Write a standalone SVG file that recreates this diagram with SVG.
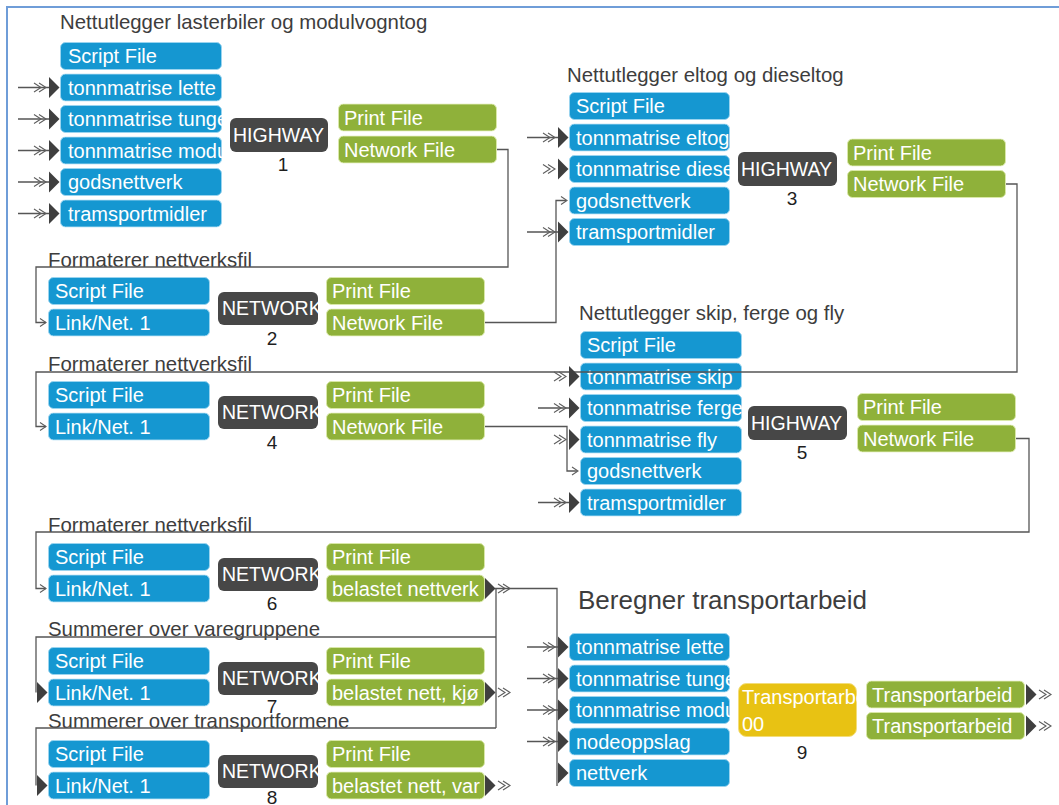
<svg xmlns="http://www.w3.org/2000/svg" width="1059" height="805" viewBox="0 0 1059 805">
  <style>
    text { font-family: "Liberation Sans", Arial, sans-serif; }
    .title { font-size: 20.4px; fill: #3d3d3d; }
    .big { font-size: 26px; fill: #3d3d3d; }
    .num { font-size: 19px; fill: #1e1e1e; text-anchor: middle; }
    .in rect { fill: #1597d1; stroke: #9ad4ef; stroke-width: 1; }
    .out rect { fill: #8fb13a; stroke: #d9e8a8; stroke-width: 1; }
    .in text, .out text, .proc text, .calc text { font-size: 20px; fill: #ffffff; }
    .proc rect { fill: #474747; }
    .proc text { font-size: 19.5px; }
    .calc rect { fill: #e8c213; stroke: #f3dd7a; stroke-width: 1; }
    .wire { fill: none; stroke: #565656; stroke-width: 1.3; }
    .chev { fill: none; stroke: #5e5e5e; stroke-width: 1.1; }
    .head { fill: #3f3f3f; }
  </style>
  <defs>
    <!-- input port: double chevron followed by a solid head, tip at origin -->
    <g id="ain">
      <path class="chev" d="M-25,-4.5 L-18,0 L-25,4.5 M-20,-4.5 L-13,0 L-20,4.5"/>
      <path class="head" d="M-10,-10.5 L0.5,0 L-10,10.5 Z"/>
    </g>
    <!-- output port: solid head then double chevron, base at origin -->
    <g id="aout">
      <path class="head" d="M0,-10.5 L10.5,0 L0,10.5 Z"/>
      <path class="chev" d="M13,-4.5 L20,0 L13,4.5 M18,-4.5 L25,0 L18,4.5"/>
    </g>
    <!-- thin open arrow for link inputs, tip at origin -->
    <path id="aopen" class="chev" d="M-7,-4 L-1,0 L-7,4"/>
    <!-- solid head only, tip at origin -->
    <path id="ahead" class="head" d="M-10,-10.5 L0.5,0 L-10,10.5 Z"/>
  </defs>

  <rect width="1059" height="805" fill="#ffffff"/>
  <path d="M7,805 V7 H1059" fill="none" stroke="#6f9dd8" stroke-width="2"/>

  <!-- 1: HIGHWAY, trucks -->
  <g id="n1">
    <text class="title" x="60" y="29">Nettutlegger lasterbiler og modulvogntog</text>
    <g class="in">
      <svg x="60" y="42" width="162" height="28"><rect x="0.5" y="0.5" width="161" height="27" rx="5"/><text x="8" y="21">Script File</text></svg>
      <svg x="60" y="73.5" width="162" height="28"><rect x="0.5" y="0.5" width="161" height="27" rx="5"/><text x="8" y="21">tonnmatrise lette</text></svg>
      <svg x="60" y="105" width="162" height="28"><rect x="0.5" y="0.5" width="161" height="27" rx="5"/><text x="8" y="21">tonnmatrise tunge</text></svg>
      <svg x="60" y="136.5" width="162" height="28"><rect x="0.5" y="0.5" width="161" height="27" rx="5"/><text x="8" y="21">tonnmatrise modul</text></svg>
      <svg x="60" y="168" width="162" height="28"><rect x="0.5" y="0.5" width="161" height="27" rx="5"/><text x="8" y="21">godsnettverk</text></svg>
      <svg x="60" y="199.5" width="162" height="28"><rect x="0.5" y="0.5" width="161" height="27" rx="5"/><text x="8" y="21">tramsportmidler</text></svg>
    </g>
    <g class="proc">
      <svg x="230" y="118" width="98" height="34"><rect width="98" height="34" rx="6"/><text x="3" y="24">HIGHWAY</text></svg>
    </g>
    <text class="num" x="283" y="171">1</text>
    <g class="out">
      <svg x="338" y="103.5" width="159" height="28"><rect x="0.5" y="0.5" width="158" height="27" rx="5"/><text x="6" y="21">Print File</text></svg>
      <svg x="338" y="135.5" width="159" height="28"><rect x="0.5" y="0.5" width="158" height="27" rx="5"/><text x="6" y="21">Network File</text></svg>
    </g>
  </g>

  <!-- 2: NETWORK formatting -->
  <g id="n2">
    <text class="title" x="48" y="267">Formaterer nettverksfil</text>
    <g class="in">
      <svg x="48" y="277" width="162" height="28"><rect x="0.5" y="0.5" width="161" height="27" rx="5"/><text x="7" y="21">Script File</text></svg>
      <svg x="48" y="308.5" width="162" height="28"><rect x="0.5" y="0.5" width="161" height="27" rx="5"/><text x="7" y="21">Link/Net. 1</text></svg>
    </g>
    <g class="proc">
      <svg x="218" y="292" width="100" height="33"><rect width="100" height="33" rx="6"/><text x="4" y="23">NETWORK</text></svg>
    </g>
    <text class="num" x="272" y="345">2</text>
    <g class="out">
      <svg x="326" y="277" width="159" height="28"><rect x="0.5" y="0.5" width="158" height="27" rx="5"/><text x="6" y="21">Print File</text></svg>
      <svg x="326" y="308.5" width="159" height="28"><rect x="0.5" y="0.5" width="158" height="27" rx="5"/><text x="6" y="21">Network File</text></svg>
    </g>
  </g>

  <!-- 3: HIGHWAY, rail -->
  <g id="n3">
    <text class="title" x="567" y="82">Nettutlegger eltog og dieseltog</text>
    <g class="in">
      <svg x="569" y="92" width="161" height="28"><rect x="0.5" y="0.5" width="160" height="27" rx="5"/><text x="7" y="21">Script File</text></svg>
      <svg x="569" y="123.5" width="161" height="28"><rect x="0.5" y="0.5" width="160" height="27" rx="5"/><text x="7" y="21">tonnmatrise eltog</text></svg>
      <svg x="569" y="155" width="161" height="28"><rect x="0.5" y="0.5" width="160" height="27" rx="5"/><text x="7" y="21">tonnmatrise diesel</text></svg>
      <svg x="569" y="186.5" width="161" height="28"><rect x="0.5" y="0.5" width="160" height="27" rx="5"/><text x="7" y="21">godsnettverk</text></svg>
      <svg x="569" y="218" width="161" height="28"><rect x="0.5" y="0.5" width="160" height="27" rx="5"/><text x="7" y="21">tramsportmidler</text></svg>
    </g>
    <g class="proc">
      <svg x="738" y="152" width="99" height="34"><rect width="99" height="34" rx="6"/><text x="3" y="24">HIGHWAY</text></svg>
    </g>
    <text class="num" x="792" y="205">3</text>
    <g class="out">
      <svg x="847" y="138.5" width="159" height="28"><rect x="0.5" y="0.5" width="158" height="27" rx="5"/><text x="6" y="21">Print File</text></svg>
      <svg x="847" y="170" width="159" height="28"><rect x="0.5" y="0.5" width="158" height="27" rx="5"/><text x="6" y="21">Network File</text></svg>
    </g>
  </g>

  <!-- 4: NETWORK formatting -->
  <g id="n4">
    <text class="title" x="48" y="371">Formaterer nettverksfil</text>
    <g class="in">
      <svg x="48" y="381" width="162" height="28"><rect x="0.5" y="0.5" width="161" height="27" rx="5"/><text x="7" y="21">Script File</text></svg>
      <svg x="48" y="412.5" width="162" height="28"><rect x="0.5" y="0.5" width="161" height="27" rx="5"/><text x="7" y="21">Link/Net. 1</text></svg>
    </g>
    <g class="proc">
      <svg x="218" y="396" width="100" height="33"><rect width="100" height="33" rx="6"/><text x="4" y="23">NETWORK</text></svg>
    </g>
    <text class="num" x="272" y="449">4</text>
    <g class="out">
      <svg x="326" y="381" width="159" height="28"><rect x="0.5" y="0.5" width="158" height="27" rx="5"/><text x="6" y="21">Print File</text></svg>
      <svg x="326" y="412.5" width="159" height="28"><rect x="0.5" y="0.5" width="158" height="27" rx="5"/><text x="6" y="21">Network File</text></svg>
    </g>
  </g>

  <!-- 5: HIGHWAY, sea and air -->
  <g id="n5">
    <text class="title" x="579" y="320">Nettutlegger skip, ferge og fly</text>
    <g class="in">
      <svg x="580" y="331" width="162" height="28"><rect x="0.5" y="0.5" width="161" height="27" rx="5"/><text x="7" y="21">Script File</text></svg>
      <svg x="580" y="362.5" width="162" height="28"><rect x="0.5" y="0.5" width="161" height="27" rx="5"/><text x="7" y="21">tonnmatrise skip</text></svg>
      <svg x="580" y="394" width="162" height="28"><rect x="0.5" y="0.5" width="161" height="27" rx="5"/><text x="7" y="21">tonnmatrise ferge</text></svg>
      <svg x="580" y="425.5" width="162" height="28"><rect x="0.5" y="0.5" width="161" height="27" rx="5"/><text x="7" y="21">tonnmatrise fly</text></svg>
      <svg x="580" y="457" width="162" height="28"><rect x="0.5" y="0.5" width="161" height="27" rx="5"/><text x="7" y="21">godsnettverk</text></svg>
      <svg x="580" y="488.5" width="162" height="28"><rect x="0.5" y="0.5" width="161" height="27" rx="5"/><text x="7" y="21">tramsportmidler</text></svg>
    </g>
    <g class="proc">
      <svg x="748" y="406" width="99" height="34"><rect width="99" height="34" rx="6"/><text x="3" y="24">HIGHWAY</text></svg>
    </g>
    <text class="num" x="802" y="459">5</text>
    <g class="out">
      <svg x="857" y="393" width="159" height="28"><rect x="0.5" y="0.5" width="158" height="27" rx="5"/><text x="6" y="21">Print File</text></svg>
      <svg x="857" y="424.5" width="159" height="28"><rect x="0.5" y="0.5" width="158" height="27" rx="5"/><text x="6" y="21">Network File</text></svg>
    </g>
  </g>

  <!-- 6: NETWORK formatting -->
  <g id="n6">
    <text class="title" x="48" y="532">Formaterer nettverksfil</text>
    <g class="in">
      <svg x="48" y="543" width="162" height="28"><rect x="0.5" y="0.5" width="161" height="27" rx="5"/><text x="7" y="21">Script File</text></svg>
      <svg x="48" y="574.5" width="162" height="28"><rect x="0.5" y="0.5" width="161" height="27" rx="5"/><text x="7" y="21">Link/Net. 1</text></svg>
    </g>
    <g class="proc">
      <svg x="218" y="558" width="100" height="33"><rect width="100" height="33" rx="6"/><text x="4" y="23">NETWORK</text></svg>
    </g>
    <text class="num" x="272" y="610">6</text>
    <g class="out">
      <svg x="326" y="543" width="159" height="28"><rect x="0.5" y="0.5" width="158" height="27" rx="5"/><text x="6" y="21">Print File</text></svg>
      <svg x="326" y="574.5" width="159" height="28"><rect x="0.5" y="0.5" width="158" height="27" rx="5"/><text x="6" y="21">belastet nettverk</text></svg>
    </g>
  </g>

  <!-- 7: NETWORK, sum over commodity groups -->
  <g id="n7">
    <text class="title" x="48" y="636">Summerer over varegruppene</text>
    <g class="in">
      <svg x="48" y="647" width="162" height="28"><rect x="0.5" y="0.5" width="161" height="27" rx="5"/><text x="7" y="21">Script File</text></svg>
      <svg x="48" y="678.5" width="162" height="28"><rect x="0.5" y="0.5" width="161" height="27" rx="5"/><text x="7" y="21">Link/Net. 1</text></svg>
    </g>
    <g class="proc">
      <svg x="218" y="662" width="100" height="33"><rect width="100" height="33" rx="6"/><text x="4" y="23">NETWORK</text></svg>
    </g>
    <text class="num" x="272" y="713">7</text>
    <g class="out">
      <svg x="326" y="647" width="159" height="28"><rect x="0.5" y="0.5" width="158" height="27" rx="5"/><text x="6" y="21">Print File</text></svg>
      <svg x="326" y="678.5" width="159" height="28"><rect x="0.5" y="0.5" width="158" height="27" rx="5"/><text x="6" y="21">belastet nett, kjø</text></svg>
    </g>
  </g>

  <!-- 8: NETWORK, sum over transport modes -->
  <g id="n8">
    <text class="title" x="48" y="728">Summerer over transportformene</text>
    <g class="in">
      <svg x="48" y="740" width="162" height="28"><rect x="0.5" y="0.5" width="161" height="27" rx="5"/><text x="7" y="21">Script File</text></svg>
      <svg x="48" y="771.5" width="162" height="28"><rect x="0.5" y="0.5" width="161" height="27" rx="5"/><text x="7" y="21">Link/Net. 1</text></svg>
    </g>
    <g class="proc">
      <svg x="218" y="755" width="100" height="33"><rect width="100" height="33" rx="6"/><text x="4" y="23">NETWORK</text></svg>
    </g>
    <text class="num" x="272" y="804">8</text>
    <g class="out">
      <svg x="326" y="740" width="159" height="28"><rect x="0.5" y="0.5" width="158" height="27" rx="5"/><text x="6" y="21">Print File</text></svg>
      <svg x="326" y="771.5" width="159" height="28"><rect x="0.5" y="0.5" width="158" height="27" rx="5"/><text x="6" y="21">belastet nett, var</text></svg>
    </g>
  </g>

  <!-- 9: transport work calculation -->
  <g id="n9">
    <text class="big" x="578" y="609">Beregner transportarbeid</text>
    <g class="in">
      <svg x="569" y="633" width="161" height="28"><rect x="0.5" y="0.5" width="160" height="27" rx="5"/><text x="7" y="21">tonnmatrise lette</text></svg>
      <svg x="569" y="664.5" width="161" height="28"><rect x="0.5" y="0.5" width="160" height="27" rx="5"/><text x="7" y="21">tonnmatrise tunge</text></svg>
      <svg x="569" y="696" width="161" height="28"><rect x="0.5" y="0.5" width="160" height="27" rx="5"/><text x="7" y="21">tonnmatrise modul</text></svg>
      <svg x="569" y="727.5" width="161" height="28"><rect x="0.5" y="0.5" width="160" height="27" rx="5"/><text x="7" y="21">nodeoppslag</text></svg>
      <svg x="569" y="759" width="161" height="28"><rect x="0.5" y="0.5" width="160" height="27" rx="5"/><text x="7" y="21">nettverk</text></svg>
    </g>
    <g class="calc">
      <svg x="738" y="683" width="119" height="54"><rect x="0.5" y="0.5" width="118" height="53" rx="8"/><text x="4" y="21">Transportarbe</text><text x="4" y="48">00</text></svg>
    </g>
    <text class="num" x="802" y="759">9</text>
    <g class="out">
      <svg x="866" y="680.5" width="159" height="28"><rect x="0.5" y="0.5" width="158" height="27" rx="5"/><text x="6" y="21">Transportarbeid</text></svg>
      <svg x="866" y="712" width="159" height="28"><rect x="0.5" y="0.5" width="158" height="27" rx="5"/><text x="6" y="21">Transportarbeid</text></svg>
    </g>
  </g>

  <!-- connectors -->
  <g id="connectors">
    <!-- external inputs, block 1 -->
    <path class="wire" d="M18,87.5 H49 M18,119 H49 M18,150.5 H49 M18,182 H49 M18,213.5 H49"/>
    <use href="#ain" x="59" y="87.5"/>
    <use href="#ain" x="59" y="119"/>
    <use href="#ain" x="59" y="150.5"/>
    <use href="#ain" x="59" y="182"/>
    <use href="#ain" x="59" y="213.5"/>

    <!-- 1 -> 2 -->
    <path class="wire" d="M497,149.5 H508 V267 H36 V322.5 H46"/>
    <use href="#aopen" x="47" y="322.5"/>

    <!-- 2 -> 3 -->
    <path class="wire" d="M485,322.5 H556 V200.5 H566"/>
    <use href="#aopen" x="568" y="200.5"/>

    <!-- external inputs, block 3 -->
    <path class="wire" d="M527,137.5 H558 M527,232 H558"/>
    <use href="#ain" x="568" y="137.5"/>
    <use href="#ain" x="568" y="169"/>
    <use href="#ain" x="568" y="232"/>

    <!-- 3 -> 4 -->
    <path class="wire" d="M1006,184 H1017 V372 H36 V426.5 H46"/>
    <use href="#aopen" x="47" y="426.5"/>

    <!-- 4 -> 5 -->
    <path class="wire" d="M485,426.5 H567 V471 H577"/>
    <use href="#aopen" x="579" y="471"/>

    <!-- external inputs, block 5 -->
    <path class="wire" d="M538,408 H569 M538,502.5 H569"/>
    <use href="#ain" x="579" y="376.5"/>
    <use href="#ain" x="579" y="408"/>
    <use href="#ain" x="579" y="439.5"/>
    <use href="#ain" x="579" y="502.5"/>

    <!-- 5 -> 6 -->
    <path class="wire" d="M1016,438.5 H1029 V532 H36 V588.5 H46"/>
    <use href="#aopen" x="47" y="588.5"/>

    <!-- 6 -> 7, 8, 9 -->
    <use href="#aout" x="485" y="588.5"/>
    <path class="wire" d="M495,588.5 H557 V786"/>
    <path class="wire" d="M496,588.5 V728 M496,637 H36 V692.5 M496,728 H36 V785.5"/>
    <use href="#ahead" x="47" y="692.5"/>
    <use href="#ahead" x="47" y="785.5"/>

    <!-- outputs of 7 and 8 -->
    <use href="#aout" x="485" y="692.5"/>
    <use href="#aout" x="485" y="785.5"/>

    <!-- external inputs, block 9 -->
    <path class="wire" d="M527,647 H558 M527,678.5 H558 M527,710 H558 M527,741.5 H558"/>
    <use href="#ain" x="568" y="647"/>
    <use href="#ain" x="568" y="678.5"/>
    <use href="#ain" x="568" y="710"/>
    <use href="#ain" x="568" y="741.5"/>
    <use href="#ahead" x="568" y="773"/>

    <!-- outputs of 9 -->
    <use href="#aout" x="1026" y="694.5"/>
    <use href="#aout" x="1026" y="726"/>
  </g>
</svg>
